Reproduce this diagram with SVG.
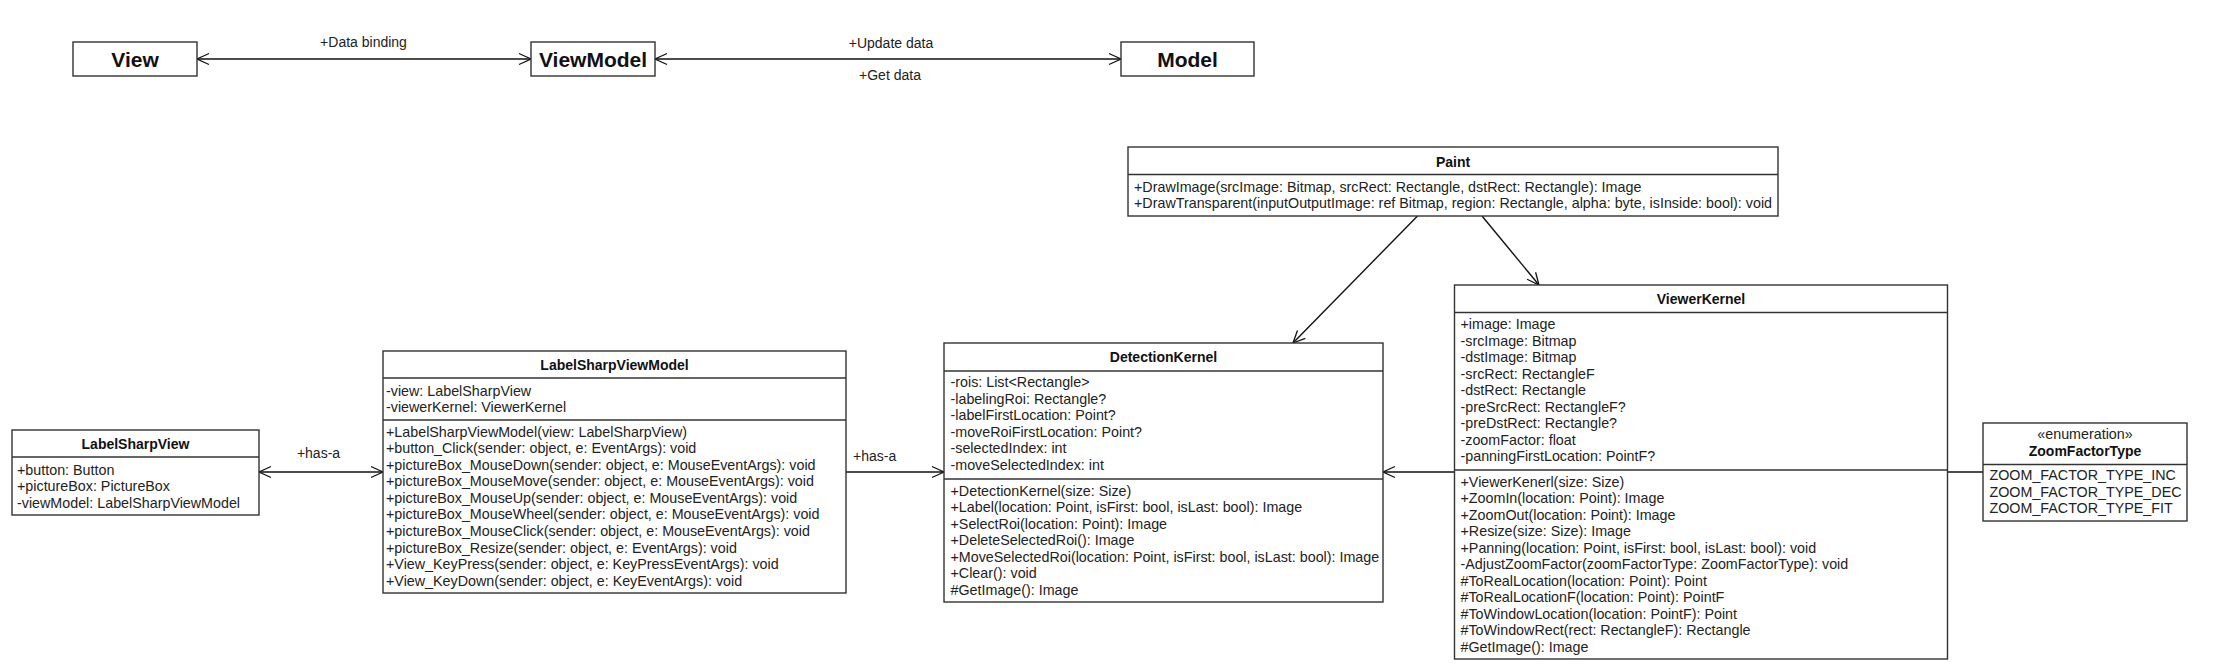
<svg xmlns="http://www.w3.org/2000/svg" width="2216" height="666" viewBox="0 0 2216 666">
<defs>
<style>
.box{fill:#fff;stroke:#333;stroke-width:1.4}
.dv{stroke:#333;stroke-width:1.4}
.t{font-family:"Liberation Sans",Arial,sans-serif;font-size:14.3px;fill:#222}
.b{font-weight:bold;text-anchor:middle;font-size:14px;fill:#111}
.m{text-anchor:middle}
.big{font-family:"Liberation Sans",Arial,sans-serif;font-size:21px;font-weight:bold;text-anchor:middle;fill:#111}
.lbl{font-family:"Liberation Sans",Arial,sans-serif;font-size:14px;fill:#222}
.c{fill:none;stroke:#111;stroke-width:1.4}
</style>
<marker id="arr" viewBox="-13 -7 14 14" refX="0" refY="0" markerWidth="14" markerHeight="14" markerUnits="userSpaceOnUse" orient="auto-start-reverse">
<path d="M-12,-5.5 L0,0 L-12,5.5" fill="none" stroke="#111" stroke-width="1.3"/>
</marker>
</defs>
<rect width="2216" height="666" fill="#fff"/>

<g id="connectors">
<line class="c" x1="197" y1="59" x2="531" y2="59" marker-start="url(#arr)" marker-end="url(#arr)"/>
<line class="c" x1="655" y1="59" x2="1121" y2="59" marker-start="url(#arr)" marker-end="url(#arr)"/>
<line class="c" x1="259" y1="472" x2="383" y2="472" stroke-width="2" marker-start="url(#arr)" marker-end="url(#arr)"/>
<line class="c" x1="846" y1="472" x2="944" y2="472" marker-end="url(#arr)"/>
<line class="c" x1="1454.5" y1="472" x2="1383" y2="472" marker-end="url(#arr)"/>
<line class="c" x1="1947.5" y1="472" x2="1983" y2="472"/>
<line class="c" x1="1417.5" y1="216" x2="1293" y2="343" stroke-width="1.1" marker-end="url(#arr)"/>
<line class="c" x1="1482" y1="216" x2="1539" y2="285" stroke-width="1.1" marker-end="url(#arr)"/>
<text class="lbl" x="363.5" y="46.5" text-anchor="middle">+Data binding</text>
<text class="lbl" x="891" y="48" text-anchor="middle">+Update data</text>
<text class="lbl" x="890" y="80" text-anchor="middle">+Get data</text>
<text class="lbl" x="318.5" y="458" text-anchor="middle">+has-a</text>
<text class="lbl" x="853" y="461">+has-a</text>
</g>

<g id="View">
<rect class="box" x="73" y="42" width="124" height="34"/>
<text class="big" x="135" y="66.5">View</text>
</g>
<g id="ViewModel">
<rect class="box" x="531" y="42" width="124" height="34"/>
<text class="big" x="593" y="66.5">ViewModel</text>
</g>
<g id="Model">
<rect class="box" x="1121" y="42" width="133" height="34"/>
<text class="big" x="1187.5" y="66.5">Model</text>
</g>

<g id="LabelSharpView">
<rect class="box" x="12" y="430" width="247" height="85"/>
<line class="dv" x1="12" y1="457" x2="259" y2="457"/>
<text class="t b" x="135.5" y="449">LabelSharpView</text>
<text class="t" x="17" y="474.5">+button: Button</text>
<text class="t" x="17" y="491">+pictureBox: PictureBox</text>
<text class="t" x="17" y="507.5">-viewModel: LabelSharpViewModel</text>
</g>

<g id="LabelSharpViewModel">
<rect class="box" x="383" y="351" width="463" height="242"/>
<line class="dv" x1="383" y1="378" x2="846" y2="378"/>
<line class="dv" x1="383" y1="420" x2="846" y2="420"/>
<text class="t b" x="614.5" y="370">LabelSharpViewModel</text>
<text class="t" x="386" y="395.5">-view: LabelSharpView</text>
<text class="t" x="386" y="412">-viewerKernel: ViewerKernel</text>
<text class="t" x="386" y="436.7">+LabelSharpViewModel(view: LabelSharpView)</text>
<text class="t" x="386" y="453.2">+button_Click(sender: object, e: EventArgs): void</text>
<text class="t" x="386" y="469.8">+pictureBox_MouseDown(sender: object, e: MouseEventArgs): void</text>
<text class="t" x="386" y="486.3">+pictureBox_MouseMove(sender: object, e: MouseEventArgs): void</text>
<text class="t" x="386" y="502.9">+pictureBox_MouseUp(sender: object, e: MouseEventArgs): void</text>
<text class="t" x="386" y="519.4">+pictureBox_MouseWheel(sender: object, e: MouseEventArgs): void</text>
<text class="t" x="386" y="536">+pictureBox_MouseClick(sender: object, e: MouseEventArgs): void</text>
<text class="t" x="386" y="552.5">+pictureBox_Resize(sender: object, e: EventArgs): void</text>
<text class="t" x="386" y="569.1">+View_KeyPress(sender: object, e: KeyPressEventArgs): void</text>
<text class="t" x="386" y="585.6">+View_KeyDown(sender: object, e: KeyEventArgs): void</text>
</g>

<g id="DetectionKernel">
<rect class="box" x="944" y="343" width="439" height="259"/>
<line class="dv" x1="944" y1="371" x2="1383" y2="371"/>
<line class="dv" x1="944" y1="479" x2="1383" y2="479"/>
<text class="t b" x="1163.5" y="362.3">DetectionKernel</text>
<text class="t" x="950.5" y="387.3">-rois: List&lt;Rectangle&gt;</text>
<text class="t" x="950.5" y="403.8">-labelingRoi: Rectangle?</text>
<text class="t" x="950.5" y="420.3">-labelFirstLocation: Point?</text>
<text class="t" x="950.5" y="436.8">-moveRoiFirstLocation: Point?</text>
<text class="t" x="950.5" y="453.3">-selectedIndex: int</text>
<text class="t" x="950.5" y="469.8">-moveSelectedIndex: int</text>
<text class="t" x="950.5" y="495.7">+DetectionKernel(size: Size)</text>
<text class="t" x="950.5" y="512.2">+Label(location: Point, isFirst: bool, isLast: bool): Image</text>
<text class="t" x="950.5" y="528.7">+SelectRoi(location: Point): Image</text>
<text class="t" x="950.5" y="545.2">+DeleteSelectedRoi(): Image</text>
<text class="t" x="950.5" y="561.7">+MoveSelectedRoi(location: Point, isFirst: bool, isLast: bool): Image</text>
<text class="t" x="950.5" y="578.2">+Clear(): void</text>
<text class="t" x="950.5" y="594.7">#GetImage(): Image</text>
</g>

<g id="Paint">
<rect class="box" x="1128" y="147" width="650" height="69"/>
<line class="dv" x1="1128" y1="174.5" x2="1778" y2="174.5"/>
<text class="t b" x="1453" y="167">Paint</text>
<text class="t" x="1134" y="191.5">+DrawImage(srcImage: Bitmap, srcRect: Rectangle, dstRect: Rectangle): Image</text>
<text class="t" x="1134" y="208">+DrawTransparent(inputOutputImage: ref Bitmap, region: Rectangle, alpha: byte, isInside: bool): void</text>
</g>

<g id="ViewerKernel">
<rect class="box" x="1454.5" y="285" width="493" height="374"/>
<line class="dv" x1="1454.5" y1="312.5" x2="1947.5" y2="312.5"/>
<line class="dv" x1="1454.5" y1="470" x2="1947.5" y2="470"/>
<text class="t b" x="1701" y="303.5">ViewerKernel</text>
<text class="t" x="1460.5" y="329.3">+image: Image</text>
<text class="t" x="1460.5" y="345.8">-srcImage: Bitmap</text>
<text class="t" x="1460.5" y="362.3">-dstImage: Bitmap</text>
<text class="t" x="1460.5" y="378.8">-srcRect: RectangleF</text>
<text class="t" x="1460.5" y="395.3">-dstRect: Rectangle</text>
<text class="t" x="1460.5" y="411.8">-preSrcRect: RectangleF?</text>
<text class="t" x="1460.5" y="428.3">-preDstRect: Rectangle?</text>
<text class="t" x="1460.5" y="444.8">-zoomFactor: float</text>
<text class="t" x="1460.5" y="461.3">-panningFirstLocation: PointF?</text>
<text class="t" x="1460.5" y="486.7">+ViewerKenerl(size: Size)</text>
<text class="t" x="1460.5" y="503.2">+ZoomIn(location: Point): Image</text>
<text class="t" x="1460.5" y="519.7">+ZoomOut(location: Point): Image</text>
<text class="t" x="1460.5" y="536.2">+Resize(size: Size): Image</text>
<text class="t" x="1460.5" y="552.7">+Panning(location: Point, isFirst: bool, isLast: bool): void</text>
<text class="t" x="1460.5" y="569.2">-AdjustZoomFactor(zoomFactorType: ZoomFactorType): void</text>
<text class="t" x="1460.5" y="585.7">#ToRealLocation(location: Point): Point</text>
<text class="t" x="1460.5" y="602.2">#ToRealLocationF(location: Point): PointF</text>
<text class="t" x="1460.5" y="618.7">#ToWindowLocation(location: PointF): Point</text>
<text class="t" x="1460.5" y="635.2">#ToWindowRect(rect: RectangleF): Rectangle</text>
<text class="t" x="1460.5" y="651.7">#GetImage(): Image</text>
</g>

<g id="ZoomFactorType">
<rect class="box" x="1983" y="423" width="204" height="98"/>
<line class="dv" x1="1983" y1="464.5" x2="2187" y2="464.5"/>
<text class="t m" x="2085" y="438.5" font-size="14">«enumeration»</text>
<text class="t b" x="2085" y="455.5">ZoomFactorType</text>
<text class="t" x="1989.5" y="480">ZOOM_FACTOR_TYPE_INC</text>
<text class="t" x="1989.5" y="496.5">ZOOM_FACTOR_TYPE_DEC</text>
<text class="t" x="1989.5" y="513">ZOOM_FACTOR_TYPE_FIT</text>
</g>
</svg>
